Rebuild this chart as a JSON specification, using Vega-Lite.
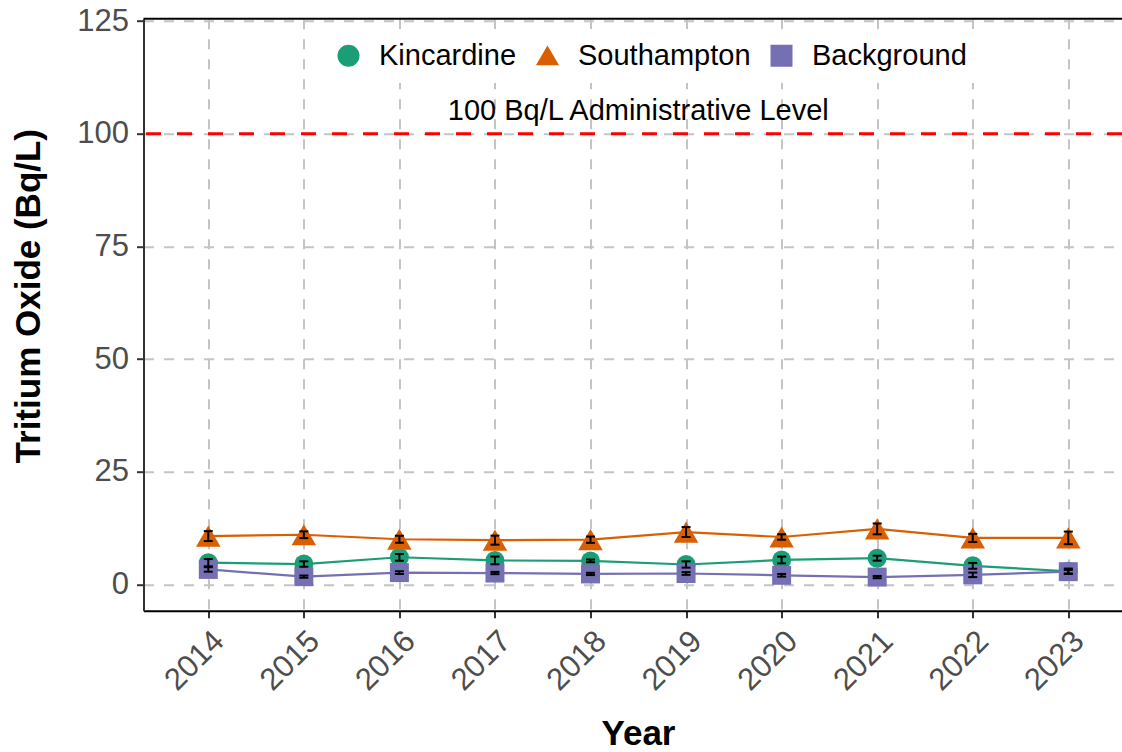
{
  "$schema": "https://vega.github.io/schema/vega-lite/v6.json",
  "width": 978.5,
  "height": 592,
  "autosize": "none",
  "padding": {"left": 143.5, "top": 18.7, "right": 0, "bottom": 141.3},
  "background": "white",
  "config": {
    "font": "Liberation Sans",
    "view": {"stroke": null},
    "axis": {
      "grid": true,
      "gridColor": "#C4C4C4",
      "gridDash": [10, 10],
      "gridWidth": 2,
      "tickColor": "#333333",
      "tickWidth": 2,
      "tickSize": 7,
      "labelFont": "Liberation Sans",
      "labelFontSize": 31,
      "labelColor": "#4D4D4D",
      "labelPadding": 8,
      "titleFont": "Liberation Sans",
      "titleFontSize": 35,
      "titleFontWeight": "bold",
      "titleColor": "black"
    },
    "legend": {
      "orient": "none",
      "legendX": 178.5,
      "legendY": 10.3,
      "direction": "horizontal",
      "fillColor": "white",
      "padding": 12,
      "symbolSize": 420,
      "symbolOpacity": 1,
      "labelFont": "Liberation Sans",
      "labelFontSize": 29,
      "labelColor": "black",
      "labelLimit": 0,
      "labelOffset": 16,
      "columnPadding": 16
    }
  },
  "data": {
    "values": [
      {"site": "Kincardine", "year": 2014, "value": 4.8, "lo": 4.0, "hi": 5.6},
      {"site": "Kincardine", "year": 2015, "value": 4.5, "lo": 3.9, "hi": 5.1},
      {"site": "Kincardine", "year": 2016, "value": 6.0, "lo": 5.25, "hi": 6.75},
      {"site": "Kincardine", "year": 2017, "value": 5.3, "lo": 4.45, "hi": 6.15},
      {"site": "Kincardine", "year": 2018, "value": 5.2, "lo": 4.9, "hi": 5.5},
      {"site": "Kincardine", "year": 2019, "value": 4.4, "lo": 3.7, "hi": 5.1},
      {"site": "Kincardine", "year": 2020, "value": 5.4, "lo": 4.65, "hi": 6.15},
      {"site": "Kincardine", "year": 2021, "value": 5.8, "lo": 5.25, "hi": 6.35},
      {"site": "Kincardine", "year": 2022, "value": 4.1, "lo": 3.45, "hi": 4.75},
      {"site": "Kincardine", "year": 2023, "value": 2.9, "lo": 2.3, "hi": 3.5},
      {"site": "Southampton", "year": 2014, "value": 10.7, "lo": 9.6, "hi": 11.8},
      {"site": "Southampton", "year": 2015, "value": 11.0, "lo": 10.25, "hi": 11.75},
      {"site": "Southampton", "year": 2016, "value": 10.0, "lo": 9.25, "hi": 10.75},
      {"site": "Southampton", "year": 2017, "value": 9.8, "lo": 8.8, "hi": 10.8},
      {"site": "Southampton", "year": 2018, "value": 9.9, "lo": 9.2, "hi": 10.6},
      {"site": "Southampton", "year": 2019, "value": 11.6, "lo": 10.5, "hi": 12.7},
      {"site": "Southampton", "year": 2020, "value": 10.5, "lo": 9.9, "hi": 11.1},
      {"site": "Southampton", "year": 2021, "value": 12.3, "lo": 11.1, "hi": 13.5},
      {"site": "Southampton", "year": 2022, "value": 10.3, "lo": 9.4, "hi": 11.2},
      {"site": "Southampton", "year": 2023, "value": 10.3, "lo": 8.9, "hi": 11.7},
      {"site": "Background", "year": 2014, "value": 3.3, "lo": 2.8, "hi": 3.8},
      {"site": "Background", "year": 2015, "value": 1.7, "lo": 1.45, "hi": 1.95},
      {"site": "Background", "year": 2016, "value": 2.6, "lo": 2.3, "hi": 2.9},
      {"site": "Background", "year": 2017, "value": 2.5, "lo": 2.25, "hi": 2.75},
      {"site": "Background", "year": 2018, "value": 2.3, "lo": 2.05, "hi": 2.55},
      {"site": "Background", "year": 2019, "value": 2.4, "lo": 2.1, "hi": 2.7},
      {"site": "Background", "year": 2020, "value": 2.0, "lo": 1.7, "hi": 2.3},
      {"site": "Background", "year": 2021, "value": 1.6, "lo": 1.35, "hi": 1.85},
      {"site": "Background", "year": 2022, "value": 2.1, "lo": 1.6, "hi": 2.6},
      {"site": "Background", "year": 2023, "value": 2.8, "lo": 2.4, "hi": 3.2}
    ]
  },
  "encoding": {
    "x": {
      "field": "year",
      "type": "quantitative",
      "scale": {"domain": [2013.322, 2023.562], "nice": false, "zero": false},
      "axis": {
        "values": [2014, 2015, 2016, 2017, 2018, 2019, 2020, 2021, 2022, 2023],
        "format": "d",
        "labelAngle": -45,
        "labelAlign": "right",
        "labelBaseline": "top",
        "labelPadding": 8,
        "domainColor": "black",
        "domainWidth": 2,
        "title": "Year",
        "titleX": 494.5,
        "titleY": 134,
        "titleBaseline": "alphabetic",
        "titleAlign": "center"
      }
    },
    "y": {
      "field": "value",
      "type": "quantitative",
      "scale": {"domain": [-5.86, 125.55], "nice": false, "zero": false},
      "axis": {
        "values": [0, 25, 50, 75, 100, 125],
        "domainColor": "#333333",
        "domainWidth": 2,
        "title": "Tritium Oxide (Bq/L)",
        "titleX": -115.5,
        "titleY": 277,
        "titleAlign": "center",
        "titleBaseline": "middle",
        "titleAngle": -90
      }
    }
  },
  "layer": [
    {
      "data": {"values": [{"level": 100}]},
      "mark": {"type": "rule", "color": "#FF0000", "strokeWidth": 3, "strokeDash": [15, 16]},
      "encoding": {"x": null, "y": {"field": "level", "type": "quantitative"}}
    },
    {
      "data": {"values": [{"top": 125.55}]},
      "mark": {"type": "rule", "color": "black", "strokeWidth": 2},
      "encoding": {"x": null, "y": {"field": "top", "type": "quantitative"}}
    },
    {
      "data": {"values": [{"label": "100 Bq/L Administrative Level", "year": 2018.5, "level": 105}]},
      "mark": {"type": "text", "font": "Liberation Sans", "fontSize": 29, "color": "black", "align": "center", "baseline": "middle"},
      "encoding": {
        "x": {"field": "year", "type": "quantitative"},
        "y": {"field": "level", "type": "quantitative"},
        "text": {"field": "label"}
      }
    },
    {
      "mark": {"type": "line", "strokeWidth": 2.2},
      "encoding": {
        "color": {
          "field": "site",
          "type": "nominal",
          "scale": {"domain": ["Kincardine", "Southampton", "Background"], "range": ["#1B9E77", "#D95F02", "#7570B3"]},
          "title": null
        },
        "order": {"field": "year"}
      }
    },
    {
      "transform": [{"filter": "datum.site !== 'Southampton'"}],
      "mark": {"type": "point", "filled": true, "opacity": 1, "size": 360},
      "encoding": {
        "color": {
          "field": "site",
          "type": "nominal",
          "scale": {"domain": ["Kincardine", "Southampton", "Background"], "range": ["#1B9E77", "#D95F02", "#7570B3"]},
          "title": null
        },
        "shape": {
          "field": "site",
          "type": "nominal",
          "scale": {"domain": ["Kincardine", "Southampton", "Background"], "range": ["circle", "triangle-up", "square"]},
          "title": null
        }
      }
    },
    {
      "transform": [{"filter": "datum.site === 'Southampton'"}],
      "mark": {"type": "point", "filled": true, "opacity": 1, "size": 600},
      "encoding": {
        "color": {
          "field": "site",
          "type": "nominal",
          "scale": {"domain": ["Kincardine", "Southampton", "Background"], "range": ["#1B9E77", "#D95F02", "#7570B3"]},
          "title": null
        },
        "shape": {
          "field": "site",
          "type": "nominal",
          "scale": {"domain": ["Kincardine", "Southampton", "Background"], "range": ["circle", "triangle-up", "square"]},
          "title": null
        }
      }
    },
    {
      "mark": {"type": "rule", "color": "black", "strokeWidth": 2},
      "encoding": {"y": {"field": "lo", "type": "quantitative"}, "y2": {"field": "hi"}}
    },
    {
      "mark": {"type": "tick", "orient": "horizontal", "color": "black", "size": 9, "thickness": 2, "opacity": 1},
      "encoding": {"y": {"field": "lo", "type": "quantitative"}}
    },
    {
      "mark": {"type": "tick", "orient": "horizontal", "color": "black", "size": 9, "thickness": 2, "opacity": 1},
      "encoding": {"y": {"field": "hi", "type": "quantitative"}}
    }
  ]
}
